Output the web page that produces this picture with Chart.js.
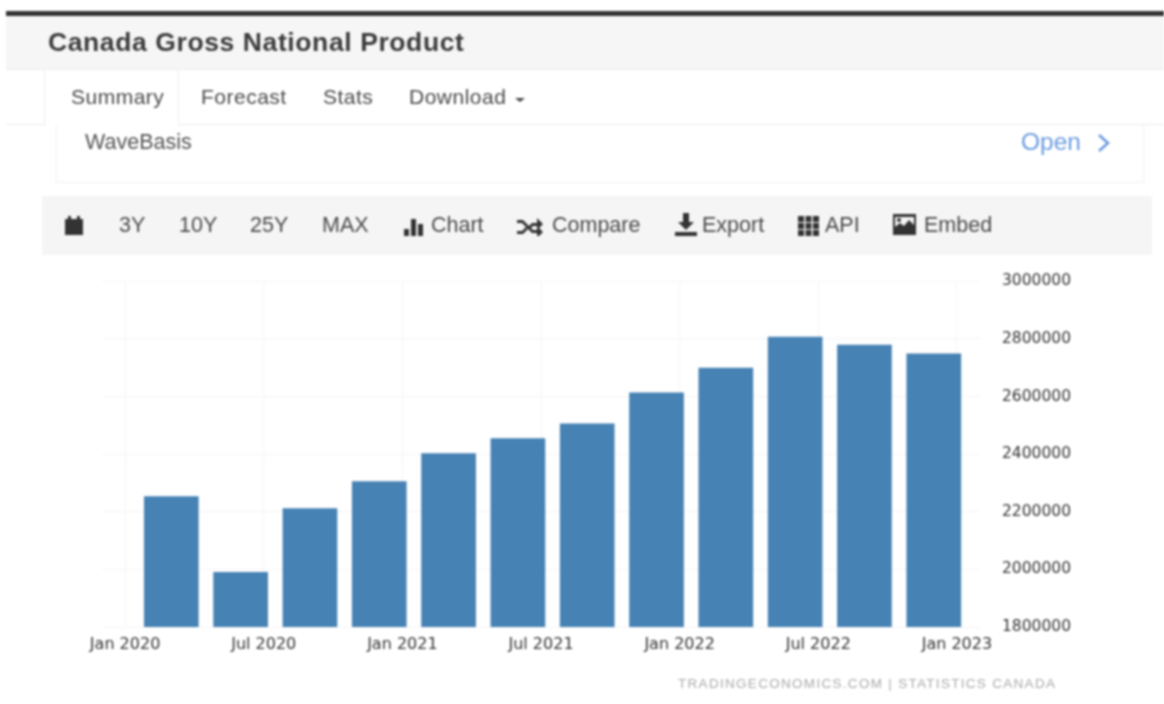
<!DOCTYPE html>
<html>
<head>
<meta charset="utf-8">
<title>Canada Gross National Product</title>
<script src="https://cdn.jsdelivr.net/npm/chart.js@4"></script>
<style>
  html, body { margin: 0; padding: 0; background: #fff; }
  body { width: 1164px; height: 704px; overflow: hidden; position: relative; font-family: "Liberation Sans", sans-serif; color: #555; }
  #page { position: absolute; left: 0; top: 0; width: 1164px; height: 704px; filter: blur(0.8px); }
  .abs { position: absolute; white-space: nowrap; }
  .topbar { left: 6px; right: 0; top: 11px; height: 5px; background: #333; }
  .head { left: 6px; right: 0; top: 16px; height: 53px; background: #f6f6f6; border-bottom: 1px solid #eee; }
  .title { left: 48px; top: 27px; font-size: 26.5px; font-weight: bold; color: #3c3c3c; letter-spacing: 0.6px; }
  .tabline { left: 6px; right: 0; top: 124px; height: 1px; background: #eee; }
  .tabactive { left: 44px; top: 70px; width: 135px; height: 56px; background: #fff; border-left: 1px solid #eee; border-right: 1px solid #eee; box-sizing: border-box; }
  .tab { top: 85px; font-size: 21px; letter-spacing: 0.5px; color: #4a4a4a; }
  .caret { left: 515px; top: 98px; width: 0; height: 0; border-left: 5px solid transparent; border-right: 5px solid transparent; border-top: 4px solid #444; }
  .panel { left: 56px; top: 125px; width: 1088px; height: 58px; border: 1px solid #f2f2f2; border-top: none; box-sizing: border-box; }
  .wave { left: 85px; top: 130px; font-size: 21.5px; color: #555; }
  .open { left: 1021px; top: 128px; font-size: 24.5px; color: #6a9be0; }
  .toolbar { left: 42px; top: 196px; width: 1110px; height: 59px; background: #f5f5f5; }
  .tool { top: 213px; font-size: 21.5px; color: #4a4a4a; }
  .ico { position: absolute; fill: #333; stroke: none; }
  .source { left: 678px; top: 676px; font-size: 13.5px; color: #aaa; letter-spacing: 1.3px; }
  canvas { position: absolute; left: 0; top: 250px; }
</style>
</head>
<body>
<div id="page">
  <div class="abs topbar"></div>
  <div class="abs head"></div>
  <div class="abs title">Canada Gross National Product</div>

  <div class="abs tabline"></div>
  <div class="abs tabactive"></div>
  <div class="abs tab" style="left:71px">Summary</div>
  <div class="abs tab" style="left:201px">Forecast</div>
  <div class="abs tab" style="left:323px">Stats</div>
  <div class="abs tab" style="left:409px">Download</div>
  <div class="abs caret"></div>

  <div class="abs panel"></div>
  <div class="abs wave">WaveBasis</div>
  <div class="abs open">Open</div>
  <svg class="abs" style="left:1096px;top:133px" width="16" height="20" viewBox="0 0 16 20"><path d="M3 2l9 8-9 8" fill="none" stroke="#6a9be0" stroke-width="2.5"/></svg>

  <div class="abs toolbar"></div>
  <svg class="ico" style="left:65px;top:216px" width="18" height="20" viewBox="0 0 18 20"><rect x="0" y="3" width="18" height="16"/><rect x="3" y="0" width="3" height="4"/><rect x="12" y="0" width="3" height="4"/></svg>
  <div class="abs tool" style="left:119px">3Y</div>
  <div class="abs tool" style="left:179px">10Y</div>
  <div class="abs tool" style="left:250px">25Y</div>
  <div class="abs tool" style="left:322px">MAX</div>
  <svg class="ico" style="left:404px;top:219px" width="20" height="17" viewBox="0 0 20 17"><rect x="0" y="10" width="5" height="7"/><rect x="7" y="0" width="5" height="17"/><rect x="14" y="5" width="5" height="12"/></svg>
  <div class="abs tool" style="left:431px">Chart</div>
  <svg class="ico" style="left:517px;top:218px" width="26" height="18" viewBox="0 0 26 18"><path d="M0 2h6l10 10h4V8l6 6-6 6v-5h-5L5 5H0z"/><path d="M0 13h5l4-4 2 2-5 5H0zM15 5h5V0l6 6-6 6V8h-4l-3 3-2-2z"/></svg>
  <div class="abs tool" style="left:552px">Compare</div>
  <svg class="ico" style="left:675px;top:213px" width="22" height="23" viewBox="0 0 22 23"><path d="M8 0h6v9h5l-8 8-8-8h5z"/><rect x="0" y="19" width="22" height="4"/></svg>
  <div class="abs tool" style="left:702px">Export</div>
  <svg class="ico" style="left:798px;top:216px" width="21" height="20" viewBox="0 0 21 20"><rect x="0" y="0" width="6" height="6"/><rect x="7.5" y="0" width="6" height="6"/><rect x="15" y="0" width="6" height="6"/><rect x="0" y="7" width="6" height="6"/><rect x="7.5" y="7" width="6" height="6"/><rect x="15" y="7" width="6" height="6"/><rect x="0" y="14" width="6" height="6"/><rect x="7.5" y="14" width="6" height="6"/><rect x="15" y="14" width="6" height="6"/></svg>
  <div class="abs tool" style="left:825px">API</div>
  <svg class="ico" style="left:893px;top:214px" width="23" height="21" viewBox="0 0 23 21"><path fill-rule="evenodd" d="M0 0h23v21H0zM2 3v10l5-4 4 3 5-6 5 5V3z"/><circle cx="6" cy="6" r="2"/></svg>
  <div class="abs tool" style="left:924px">Embed</div>

  <canvas id="gnpChart" width="1164" height="415"></canvas>

  <div class="abs source">TRADINGECONOMICS.COM | STATISTICS CANADA</div>
</div>

<script>
// months counted from Jan 2020, each bar is the end of a quarter
const barMonths = [2, 5, 8, 11, 14, 17, 20, 23, 26, 29, 32, 35];
const gnpValues = [2253000, 1990000, 2211000, 2305000, 2402000, 2454000, 2505000, 2613000, 2699000, 2806000, 2779000, 2748000];

const xTickMonths = [0, 6, 12, 18, 24, 30, 36];
const xTickLabels = ['Jan 2020', 'Jul 2020', 'Jan 2021', 'Jul 2021', 'Jan 2022', 'Jul 2022', 'Jan 2023'];

const ctx = document.getElementById('gnpChart').getContext('2d');
new Chart(ctx, {
  type: 'bar',
  data: {
    datasets: [
      {
        label: 'Canada Gross National Product',
        data: barMonths.map((m, i) => ({ x: m, y: gnpValues[i] })),
        backgroundColor: '#4682b4',
        barThickness: 54,
      }
    ],
  },
  options: {
    responsive: false,
    animation: false,
    layout: { padding: { left: 102, top: 0, right: 0, bottom: 0 } },
    plugins: { legend: { display: false }, tooltip: { enabled: false } },
    scales: {
      x: {
        type: 'linear',
        offset: false,
        min: -1,
        max: 37,
        border: { display: false },
        grid: { color: '#f5f5f5', drawTicks: false, offset: false },
        afterFit: scale => { scale.height = 38; },
        ticks: {
          stepSize: 6,
          includeBounds: false,
          maxRotation: 0,
          padding: 8,
          color: '#333',
          font: { family: 'DejaVu Sans', size: 16 },
          callback: value => xTickLabels[xTickMonths.indexOf(value)] ?? '',
        },
      },
      y: {
        position: 'right',
        min: 1800000,
        max: 3000000,
        border: { display: false },
        grid: { color: '#f5f5f5', drawTicks: false },
        afterFit: scale => { scale.width = 184; },
        ticks: {
          stepSize: 200000,
          padding: 22,
          color: '#333',
          font: { family: 'DejaVu Sans', size: 15.5 },
          callback: value => String(value),
        },
      },
    },
  },
});
</script>
</body>
</html>
